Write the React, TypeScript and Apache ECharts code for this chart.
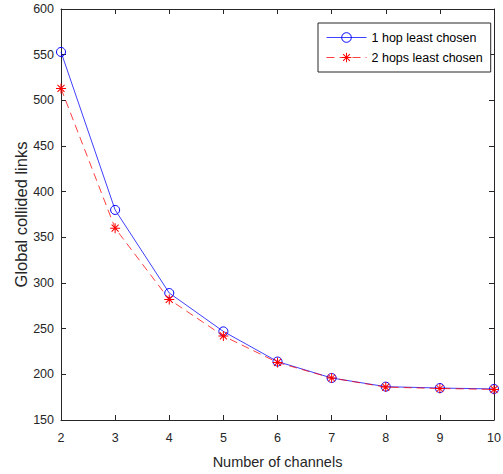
import React, { useEffect, useRef } from "react";
import * as echarts from "echarts";

const channels = [2, 3, 4, 5, 6, 7, 8, 9, 10];
const oneHop = [553, 380, 289, 247, 214, 196, 186.5, 185, 184];
const twoHops = [513, 360, 282, 242, 213, 196, 186, 184.5, 183.5];
const seriesNames = ["1 hop least chosen", "2 hops least chosen"];

const asterisk =
  "path://M4.5 0 H5.5 V10 H4.5 Z M0 4.5 H10 V5.5 H0 Z M1.85 1.15 L8.85 8.15 L8.15 8.85 L1.15 1.85 Z M8.15 1.15 L8.85 1.85 L1.85 8.85 L1.15 8.15 Z";

const FONT = "Liberation Sans";
const AX = "#262626";

export default function App() {
  const ref = useRef<HTMLDivElement>(null);
  useEffect(() => {
    if (!ref.current) return;
    const chart = echarts.init(ref.current, undefined, { renderer: "svg" });
    const tickBase = {
      show: true,
      inside: true,
      length: 5,
      lineStyle: { color: AX, width: 1 },
    };
    chart.setOption({
      animation: false,
      backgroundColor: "#ffffff",
      textStyle: { fontFamily: FONT },
      grid: {
        left: 61,
        right: 9,
        top: 9,
        bottom: 54,
        containLabel: false,
        outerBoundsMode: "none",
      },
      legend: {
        orient: "vertical",
        left: 318,
        top: 23,
        padding: [8, 8, 8, 8],
        itemGap: 7,
        itemWidth: 40,
        itemHeight: 12,
        borderColor: AX,
        borderWidth: 1,
        backgroundColor: "#ffffff",
        lineStyle: { width: 1 },
        itemStyle: { borderWidth: 1 },
        textStyle: { fontFamily: FONT, fontSize: 12.5, color: "#000" },
        data: seriesNames,
      },
      xAxis: [
        {
          type: "value",
          min: 2,
          max: 10,
          interval: 1,
          name: "Number of channels",
          nameLocation: "middle",
          nameGap: 34,
          nameMoveOverlap: false,
          nameTextStyle: { fontFamily: FONT, fontSize: 14.5, color: AX },
          axisLine: { show: true, lineStyle: { color: AX, width: 1 } },
          axisTick: tickBase,
          axisLabel: { fontFamily: FONT, fontSize: 12.5, color: AX, margin: 11 },
          splitLine: { show: false },
        },
        {
          type: "value",
          position: "top",
          min: 2,
          max: 10,
          interval: 1,
          axisLine: { show: true, onZero: false, lineStyle: { color: AX, width: 1 } },
          axisTick: tickBase,
          axisLabel: { show: false },
          splitLine: { show: false },
        },
      ],
      yAxis: [
        {
          type: "value",
          min: 150,
          max: 600,
          interval: 50,
          name: "Global collided links",
          nameLocation: "middle",
          nameGap: 32,
          nameMoveOverlap: false,
          nameTextStyle: { fontFamily: FONT, fontSize: 16.5, color: AX },
          axisLine: { show: true, lineStyle: { color: AX, width: 1 } },
          axisTick: tickBase,
          axisLabel: { fontFamily: FONT, fontSize: 12.5, color: AX, margin: 7 },
          splitLine: { show: false },
        },
        {
          type: "value",
          position: "right",
          min: 150,
          max: 600,
          interval: 50,
          axisLine: { show: true, onZero: false, lineStyle: { color: AX, width: 1 } },
          axisTick: tickBase,
          axisLabel: { show: false },
          splitLine: { show: false },
        },
      ],
      series: [
        {
          name: seriesNames[0],
          type: "line",
          data: channels.map((c, i) => [c, oneHop[i]]),
          symbol: "circle",
          symbolSize: 9,
          showAllSymbol: true,
          z: 3,
          itemStyle: { color: "rgba(0,0,0,0)", borderColor: "#0000ff", borderWidth: 1 },
          lineStyle: { color: "#0000ff", width: 1, opacity: 0.75 },
        },
        {
          name: seriesNames[1],
          type: "line",
          data: channels.map((c, i) => [c, twoHops[i]]),
          symbol: asterisk,
          symbolSize: 10,
          showAllSymbol: true,
          z: 4,
          itemStyle: { color: "#ff0000" },
          lineStyle: { color: "#ff0000", width: 1, type: [8, 5], opacity: 0.75 },
        },
      ],
    });
    return () => chart.dispose();
  }, []);
  return (
    <div
      ref={ref}
      style={{ position: "fixed", left: 0, top: 0, width: 503, height: 474 }}
    />
  );
}
